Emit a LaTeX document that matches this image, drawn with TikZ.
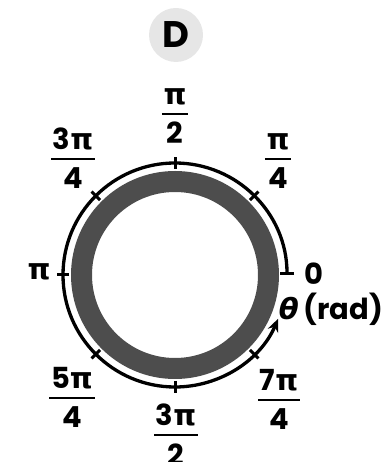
\documentclass[tikz,border=0pt]{standalone}
\usepackage{fontspec}
\setmainfont{Poppins}
\newfontfamily\grk{DejaVu Sans}
\usetikzlibrary{arrows.meta,calc}
\definecolor{ringgray}{HTML}{4D4D4D}
\definecolor{dgray}{HTML}{E6E6E6}
\newcommand\p{{\grk\bfseries π}}
\newcommand\thet{{\grk\bfseries\itshape θ}}
\newcommand\fracl[5]{%
  \node[lab, anchor=base] (#1n) at (#2, #3+9) {#4};
  \node[lab, anchor=base] (#1d) at (#2, #3-30) {#5};
  \draw[barline] ($(#1n.base west)+(-1.5,-9)$) -- ($(#1n.base east)+(1.5,-9)$);
}
\begin{document}
\begin{tikzpicture}[x=1pt,y=1pt,
  lab/.style={font=\fontsize{29}{29}\selectfont\bfseries, inner sep=0pt},
  barline/.style={line width=2.8pt},
  arcline/.style={line width=3.3pt},
  tick/.style={line width=3pt}]
\useasboundingbox (0,0) rectangle (383,462);
\coordinate (C) at (175,187);
% title badge
\node[circle, fill=dgray, minimum size=54pt, inner sep=0pt,
      font=\fontsize{37}{37}\selectfont\bfseries] (D) at (176,427) {D};
% ring
\fill[ringgray, even odd rule] (C) circle[radius=104] (C) circle[radius=83];
% arc
\draw[arcline, {Bar[width=14pt,line width=3pt]}-{Stealth[length=13pt,width=11pt]}]
  ($(C)+(112,0)$) arc[start angle=0, end angle=337, radius=112];
% ticks
\foreach \a in {45,90,135,180,225,270,315}
  \draw[tick] ($(C)+(\a:106)$) -- ($(C)+(\a:118)$);
% labels
\fracl{q2}{175}{348}{\p}{2}
\fracl{q1}{278}{303}{\p}{4}
\fracl{q3}{73}{303}{3\p}{4}
\fracl{q5}{72}{64}{5\p}{4}
\fracl{q6}{176}{27}{3\p}{2}
\fracl{q7}{279}{62}{7\p}{4}
\node[lab] (pi) at (39,190) {\p};
\node[lab] (zero) at (314,188) {0};
\node[lab] (th) at (331,153) {\thet\,(rad)};
\end{tikzpicture}
\end{document}
